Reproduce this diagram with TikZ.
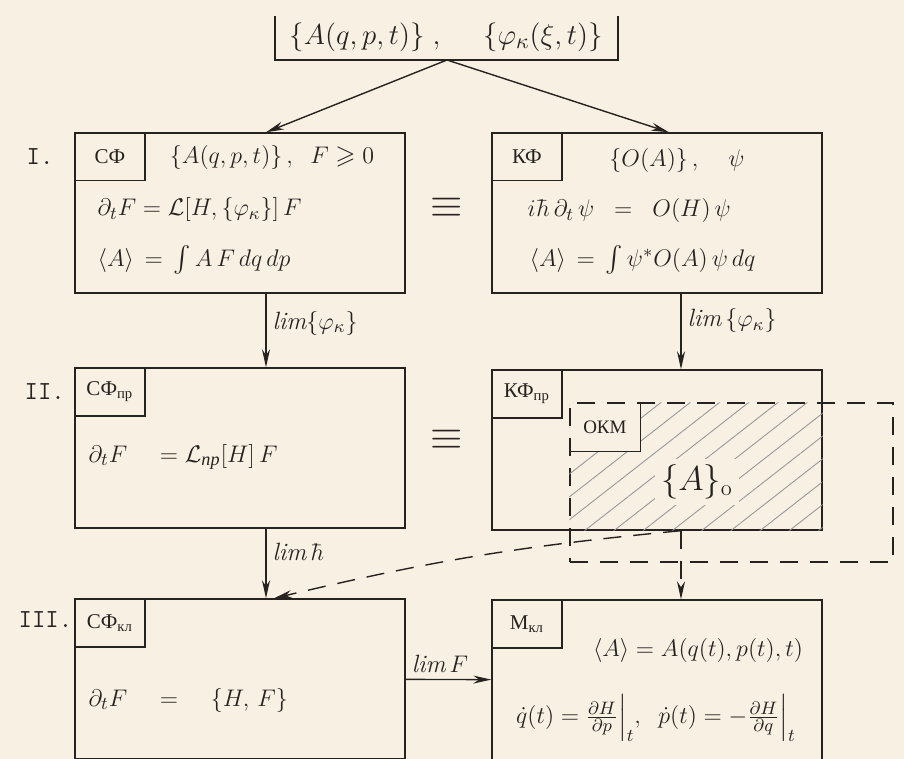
\documentclass[tikz,border=0pt]{standalone}
\usepackage{amssymb,amsmath}
\usepackage{fontspec}
\newfontfamily\cyrserif{Liberation Serif}
\usepackage{xcolor}
\definecolor{paper}{RGB}{249,240,228}
\definecolor{ink}{RGB}{38,34,32}
\usetikzlibrary{arrows.meta,patterns.meta}
\tikzset{>={Stealth[length=9pt,width=4pt]}}
\tikzset{
  stage/.style={draw=ink, line width=0.7pt, minimum width=165pt, minimum height=80pt, inner sep=0pt},
  tag/.style={draw=ink, line width=0.6pt, minimum width=35pt, minimum height=24pt, inner sep=1pt,
    anchor=north west, font=\cyrserif\fontsize{10.5}{12}\selectfont},
  formula/.style={font=\fontsize{13}{15}\selectfont, inner sep=0pt},
  limlabel/.style={font=\fontsize{12.5}{14}\selectfont, inner sep=3pt},
  roman/.style={font=\ttfamily\fontsize{13}{15}\selectfont, anchor=west, inner sep=0pt},
  equiv/.style={font=\fontsize{22}{22}\selectfont, inner sep=0pt},
  dashline/.style={dash pattern=on 9pt off 6pt}
}

\begin{document}
\begin{tikzpicture}[x=0.5pt, y=-0.5pt, ink, line width=0.7pt]

  \fill[paper] (0,0) rectangle (904,759);
  \useasboundingbox (0,0) rectangle (904,759);

  % starting sets
  \node[formula, font=\fontsize{15}{17}\selectfont] (init) at (446,37)
    {$\{A(q,p,t)\}\;,\quad\; \{\varphi_\kappa(\xi,t)\}$};
  \draw (275,16) -- (275,60) -- (618,60) -- (618,16);
  \coordinate (apex) at (447,60);

  % the six stages
  \node[stage] (sfI) at (240,213) {};
  \node[stage] (kfI) at (657,213) {};
  \node[stage] (sfII) at (240,448) {};
  \node[stage] (kfII) at (657,450) {};
  \node[stage] (sfIII) at (240,679) {};
  \node[stage] (mIII) at (657,680) {};

  % region of the hatched zone
  \node[draw, dashline, minimum width=161.5pt, minimum height=79.5pt, inner sep=0pt]
    (okmzone) at (731.5,482.5) {};
  \node[tag, draw=none, font=\cyrserif\fontsize{9.5}{11}\selectfont] (okm) at (okmzone.north west) {ОКМ};
  \fill[pattern={Lines[angle=38,distance=9pt,line width=0.45pt]}, pattern color=gray!80, even odd rule]
    (okmzone.north west) rectangle (kfII.south east) (okm.north west) rectangle (okm.south east);
  \draw (okm.north east) -- (okm.south east) -- (okm.south west);

  % tags
  \node[tag] (sfItag) at (sfI.north west) {СФ};
  \node[tag] (kfItag) at (kfI.north west) {КФ};
  \node[tag] (sfIItag) at (sfII.north west) {СФ\textsubscript{пр}};
  \node[tag] (kfIItag) at (kfII.north west) {КФ\textsubscript{пр}};
  \node[tag] (sfIIItag) at (sfIII.north west) {СФ\textsubscript{кл}};
  \node[tag] (mIIItag) at (mIII.north west) {М\textsubscript{кл}};

  % level numbers
  \node[roman] (lvlI) at (26,157) {I.};
  \node[roman] (lvlII) at (24,392) {II.};
  \node[roman] (lvlIII) at (18,620) {III.};

  % level I
  \node[formula] (sfIa) at (272,158) {$\{A(q,p,t)\}\,,\;\; F \geqslant 0$};
  \node[formula, anchor=west] (sfIb) at (97,210) {$\partial_t F = \mathcal{L}[H,\{\varphi_\kappa\}]\,F$};
  \node[formula, anchor=west] (sfIc) at (97,260) {$\langle A\rangle \,=\, \int A\,F\,dq\,dp$};
  \node[formula] (kfIa) at (677,161) {$\{O(A)\}\,,\quad \psi$};
  \node[formula, anchor=west] (kfIb) at (527,211) {$i\hbar\,\partial_t\,\psi \;\;=\;\; O(H)\,\psi$};
  \node[formula, anchor=west] (kfIc) at (529,260) {$\langle A\rangle \,=\, \int\psi^{*}O(A)\,\psi\,dq$};
  \node[equiv] (eqI) at (447,208) {$\equiv$};

  % level II
  \node[formula, anchor=west] (sfIIa) at (88,457) {$\partial_t F \quad= \mathcal{L}_{\text{\cyrserif\itshape пр}}[H]\,F$};
  \node[formula, font=\fontsize{16}{18}\selectfont, fill=paper, inner sep=3pt] (kfIIa) at (697,482) {$\{A\}_{\mathrm{o}}$};
  \node[equiv] (eqII) at (447,440) {$\equiv$};

  % level III
  \node[formula, anchor=west] (sfIIIa) at (88,700) {$\partial_t F \quad=\quad \{H,\,F\}$};
  \node[formula] (mIIIa) at (698,650) {$\langle A\rangle = A(q(t),p(t),t)$};
  \node[formula] (mIIIb) at (656,718)
    {$\dot q(t) = \frac{\partial H}{\partial p}\Big|_t ,\;\; \dot p(t) = -\frac{\partial H}{\partial q}\Big|_t$};

  % limits
  \draw[->] (apex) -- ([xshift=13pt]sfI.north);
  \draw[->] (apex) -- ([xshift=6pt]kfI.north);
  \draw[->] ([xshift=13pt]sfI.south) -- node[limlabel, right, pos=0.4] {$\mathit{lim}\{\varphi_\kappa\}$} ([xshift=13pt]sfII.north);
  \draw[->] ([xshift=12pt]kfI.south) -- node[limlabel, right, pos=0.36] {$\mathit{lim}\,\{\varphi_\kappa\}$} ([xshift=12pt]kfII.north);
  \draw[->] ([xshift=13pt]sfII.south) -- node[limlabel, right, pos=0.33] {$\mathit{lim}\,\hbar$} ([xshift=13pt]sfIII.north);
  \draw[->] (sfIII) -- node[limlabel, above, pos=0.4] {$\mathit{lim}\,F$} (mIII);

  % out of the hatched zone
  \coordinate (split) at ([xshift=12pt]kfII.south);
  \draw[->, dashline] (split) -- ([xshift=12pt]mIII.north);
  \draw[->, dashline] (split) to[bend right=4] ([xshift=17pt]sfIII.north);

\end{tikzpicture}
\end{document}
